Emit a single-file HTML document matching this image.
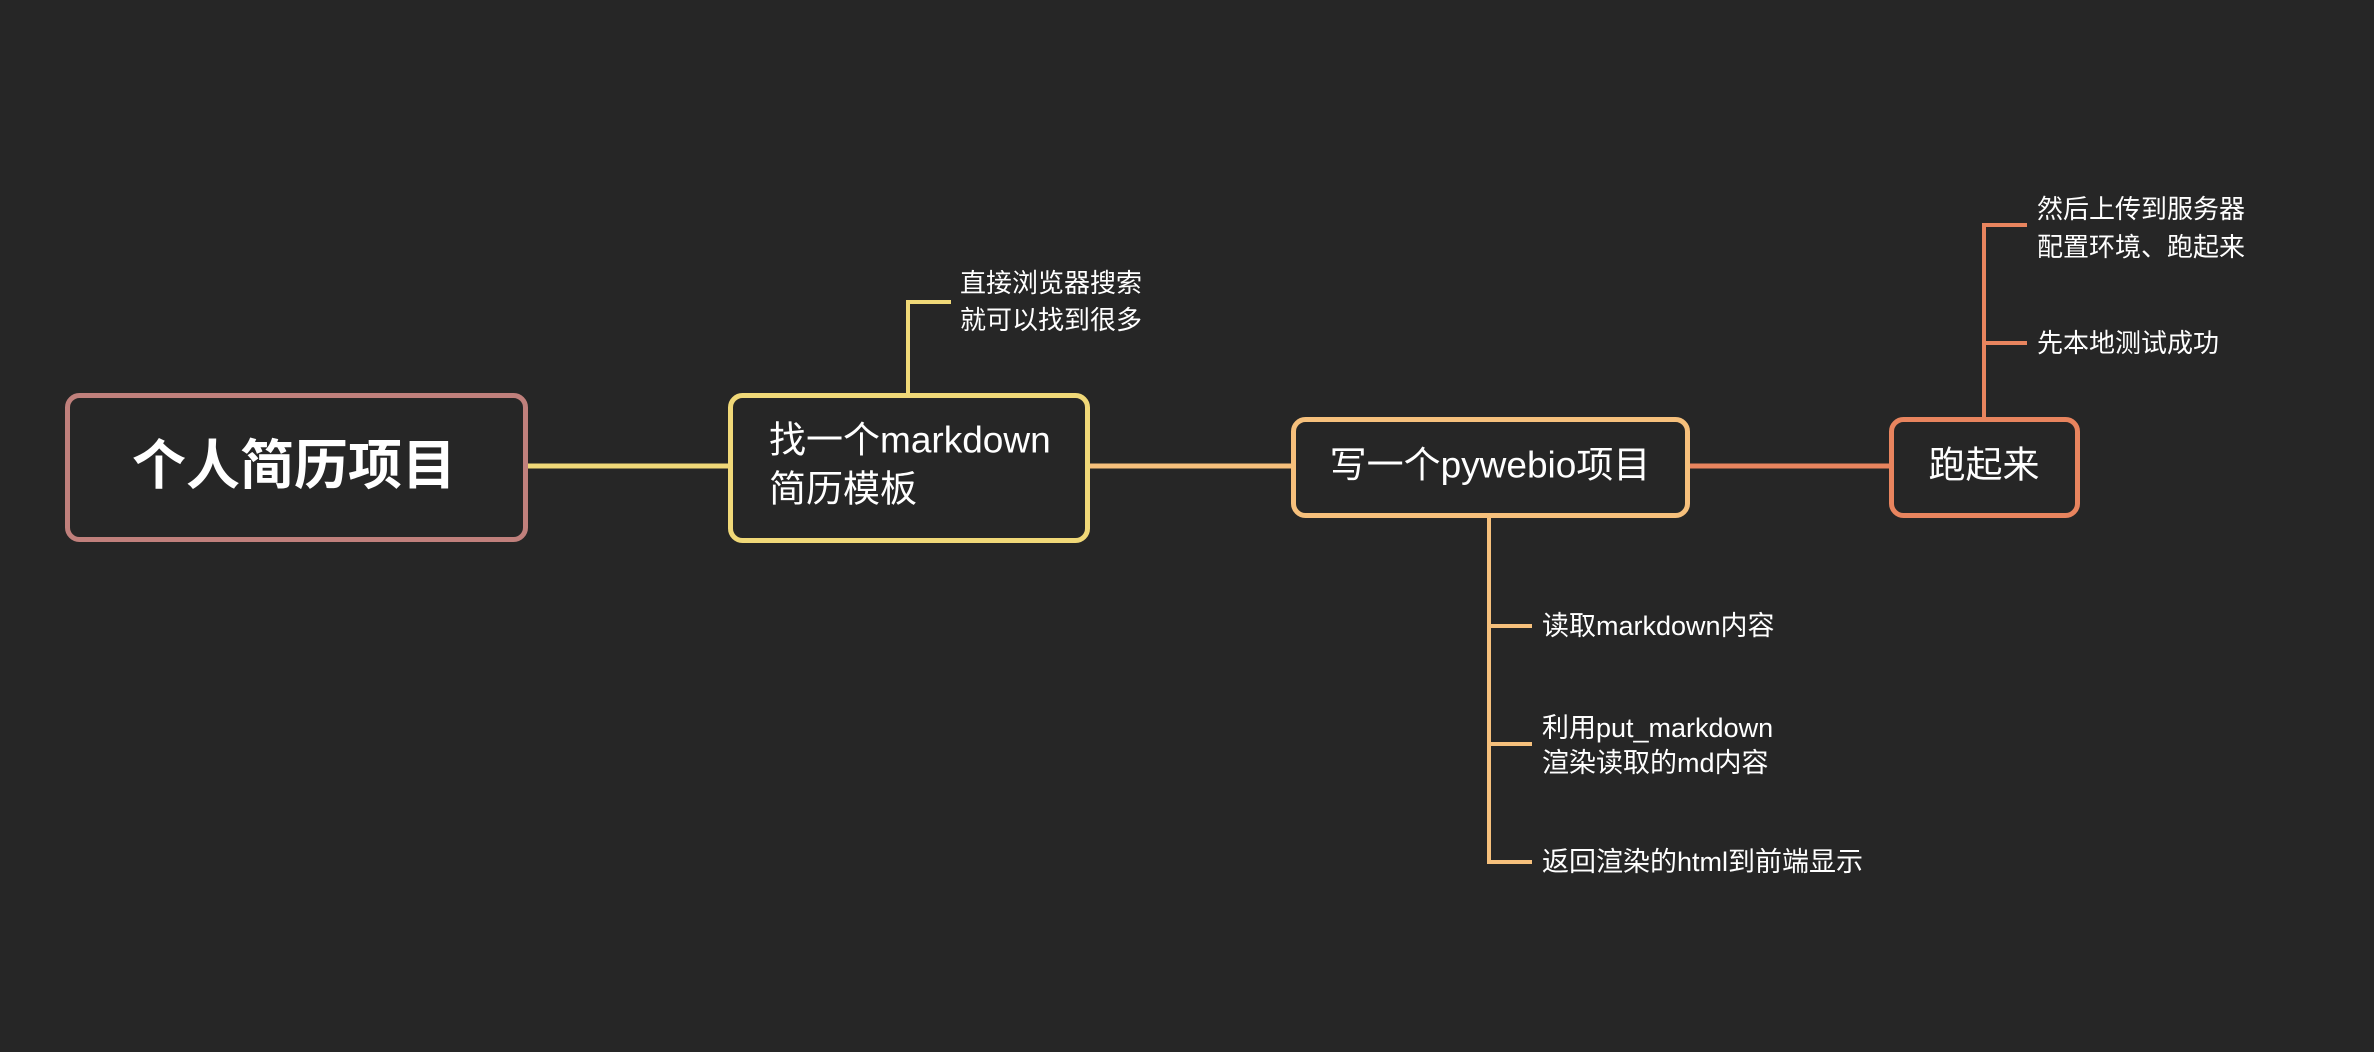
<!DOCTYPE html>
<html><head><meta charset="utf-8"><style>
html,body{margin:0;padding:0;background:#262626;}
svg{display:block}
text{font-family:"Liberation Sans","Noto Sans CJK SC",sans-serif;fill:#ffffff;dominant-baseline:central}
</style></head><body>
<svg width="2374" height="1052" viewBox="0 0 2374 1052" xmlns="http://www.w3.org/2000/svg">
<rect width="2374" height="1052" fill="#262626"/>
<line x1="528" y1="466" x2="730" y2="466" stroke="#f0d878" stroke-width="5"/>
<line x1="1090" y1="466" x2="1292" y2="466" stroke="#f6c07c" stroke-width="5"/>
<line x1="1690" y1="466" x2="1890" y2="466" stroke="#e8845e" stroke-width="5"/>
<polyline points="908,393 908,302 951,302" fill="none" stroke="#f0d878" stroke-width="4"/>
<polyline points="1984,417 1984,225 2027,225" fill="none" stroke="#e8845e" stroke-width="4"/>
<line x1="1984" y1="343" x2="2027" y2="343" stroke="#e8845e" stroke-width="4"/>
<polyline points="1489,518 1489,862 1532,862" fill="none" stroke="#f6c07c" stroke-width="4"/>
<line x1="1489" y1="626" x2="1532" y2="626" stroke="#f6c07c" stroke-width="4"/>
<line x1="1489" y1="744" x2="1532" y2="744" stroke="#f6c07c" stroke-width="4"/>
<rect x="67.5" y="395.5" width="458" height="144" rx="12" fill="#262626" stroke="#c0807c" stroke-width="5"/>
<text x="294" y="466" font-size="54" font-weight="bold" text-anchor="middle">个人简历项目</text>
<rect x="730.5" y="395.5" width="357" height="145" rx="12" fill="#262626" stroke="#f0d878" stroke-width="5"/>
<text x="769" y="440" font-size="37">找一个markdown</text>
<text x="769" y="489" font-size="37">简历模板</text>
<rect x="1293.5" y="419.5" width="394" height="96" rx="12" fill="#262626" stroke="#f6c07c" stroke-width="5"/>
<text x="1490" y="465" font-size="37" text-anchor="middle">写一个pywebio项目</text>
<rect x="1891.5" y="419.5" width="186" height="96" rx="12" fill="#262626" stroke="#e8845e" stroke-width="5"/>
<text x="1984" y="465" font-size="37" text-anchor="middle">跑起来</text>
<text x="960" y="283" font-size="26">直接浏览器搜索</text>
<text x="960" y="320" font-size="26">就可以找到很多</text>
<text x="2037" y="209" font-size="26">然后上传到服务器</text>
<text x="2037" y="247" font-size="26">配置环境、跑起来</text>
<text x="2037" y="343" font-size="26">先本地测试成功</text>
<text x="1542" y="626" font-size="27">读取markdown内容</text>
<text x="1542" y="728" font-size="27">利用put_markdown</text>
<text x="1542" y="763" font-size="27">渲染读取的md内容</text>
<text x="1542" y="862" font-size="27">返回渲染的html到前端显示</text>
</svg>
</body></html>
